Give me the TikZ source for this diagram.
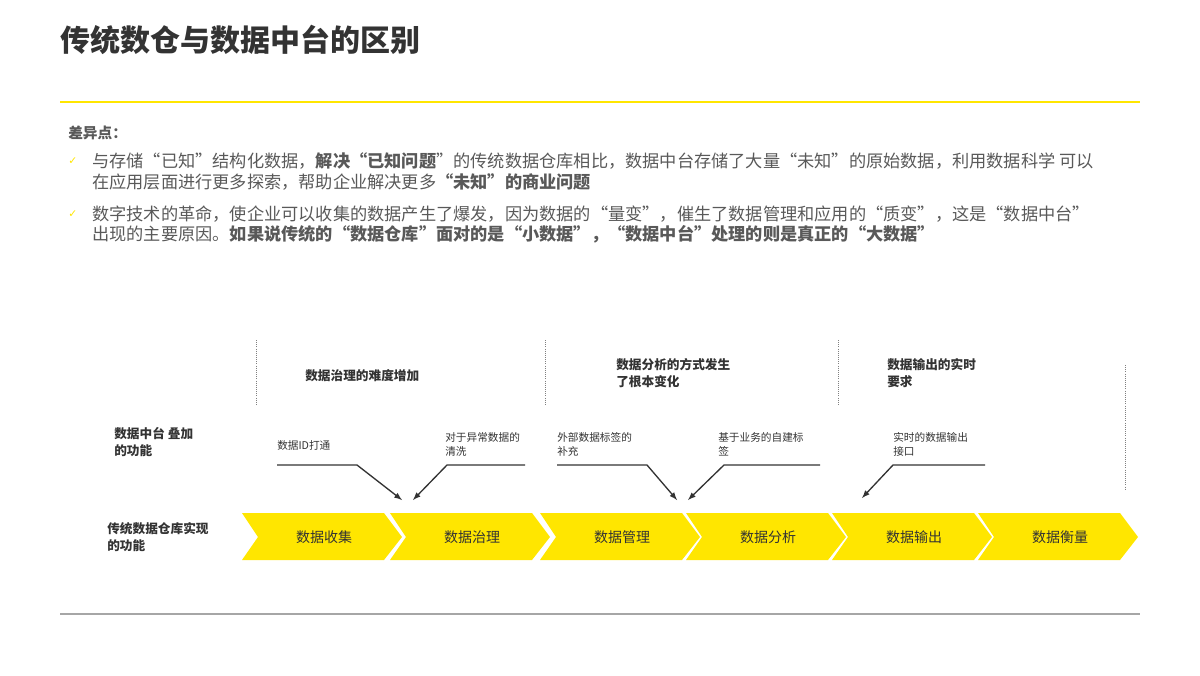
\documentclass[tikz,border=0pt]{standalone}
\usepackage{fontspec}
\setmainfont{Noto Sans CJK SC}
\newfontfamily\sym{DejaVu Sans}
\definecolor{ey}{HTML}{FFE600}
\definecolor{tx}{HTML}{333333}
\definecolor{gt}{HTML}{595959}
\begin{document}
\begin{tikzpicture}[x=0.75pt,y=-0.75pt,
  every node/.style={inner sep=0pt,anchor=west,text=tx},
  body/.style={font=\fontsize{12.9pt}{14pt}\selectfont,text=gt},
  small/.style={font=\fontsize{8pt}{11pt}\selectfont,align=left,anchor=north west},
  head/.style={font=\bfseries\fontsize{9.5pt}{13pt}\selectfont,align=left,anchor=north west},
  chev/.style={fill=ey,draw=none},
  vd/.style={densely dotted,gray,line width=0.6pt},
  arr/.style={->,>=latex,line width=1pt,draw=tx}]
\useasboundingbox (0,0) rectangle (1200,675);
\node (title) at (60,40) {\bfseries\fontsize{22.5pt}{25pt}\selectfont 传统数仓与数据中台的区别};
\draw[ey,line width=1.2pt] (60,102) coordinate(ya) -- (1140,102) coordinate(yb);
\draw[gray!70,line width=1pt] (60,614) coordinate(ga) -- (1140,614) coordinate(gb);
\node[body,font=\bfseries\fontsize{11pt}{12pt}\selectfont] (d) at (68,133) {差异点：};
\node[text=ey,font=\sym\fontsize{8pt}{8pt}\selectfont] (c1) at (68,161) {✓};
\node[text=ey,font=\sym\fontsize{8pt}{8pt}\selectfont] (c2) at (68,214) {✓};
\node[body] (l1) at (92,161) {与存储“已知”结构化数据，{\bfseries 解决“已知问题}”的传统数据仓库相比，数据中台存储了大量“未知”的原始数据，利用数据科学 可以};
\node[body] (l2) at (92,182) {在应用层面进行更多探索，帮助企业解决更多{\bfseries “未知”的商业问题}};
\node[body] (l3) at (92,214) {数字技术的革命，使企业可以收集的数据产生了爆发，因为数据的“量变”，催生了数据管理和应用的“质变”，这是“数据中台”};
\node[body] (l4) at (92,234) {出现的主要原因。{\bfseries 如果说传统的“数据仓库”面对的是“小数据”，“数据中台”处理的则是真正的“大数据”}};
% dotted verticals
\draw[vd] (256,340) coordinate(v1a) -- (256,405) coordinate(v1b);
\draw[vd] (545,340) coordinate(v2a) -- (545,405) coordinate(v2b);
\draw[vd] (838,340) coordinate(v3a) -- (838,405) coordinate(v3b);
\draw[vd] (1125,365) coordinate(v4a) -- (1125,490) coordinate(v4b);
% headings
\node[head] (h1) at (305,369) {数据治理的难度增加};
\node[head] (h2) at (616,358) {数据分析的方式发生\\了根本变化};
\node[head] (h3) at (887,358) {数据输出的实时\\要求};
\node[head] (s1) at (114,427) {数据中台 叠加\\的功能};
\node[head] (s2) at (107,522) {传统数据仓库实现\\的功能};
% small labels
\node[small] (a1) at (277,440) {数据ID打通};
\node[small] (a2) at (445,432) {对于异常数据的\\清洗};
\node[small] (a3) at (557,432) {外部数据标签的\\补充};
\node[small] (a4) at (718,432) {基于业务的自建标\\签};
\node[small] (a5) at (893,432) {实时的数据输出\\接口};
\coordinate (t1) at (402,500); \coordinate (t2) at (413,500);
\coordinate (t3) at (677,500); \coordinate (t4) at (688,500);
\coordinate (t5) at (862,498);
\draw[arr] (277,465) -- (357,465) -- (t1);
\draw[arr] (525,465) -- (447,465) -- (t2);
\draw[arr] (557,465) -- (647,465) -- (t3);
\draw[arr] (820,465) -- (724,465) -- (t4);
\draw[arr] (985,465) -- (893,465) -- (t5);
% chevrons
\foreach \x/\t [count=\i] in {242/数据收集,390/数据治理,540/数据管理,686/数据分析,832/数据输出,978/数据衡量}{
  \fill[chev] (\x,513) -- (\x+142,513) -- (\x+160,537) -- (\x+142,560) -- (\x,560) -- (\x+16,537) -- cycle;
  \node[anchor=center,font=\fontsize{10.5pt}{12pt}\selectfont] (ch\i) at (\x+82,537) {\t};
}
\end{tikzpicture}
\end{document}
